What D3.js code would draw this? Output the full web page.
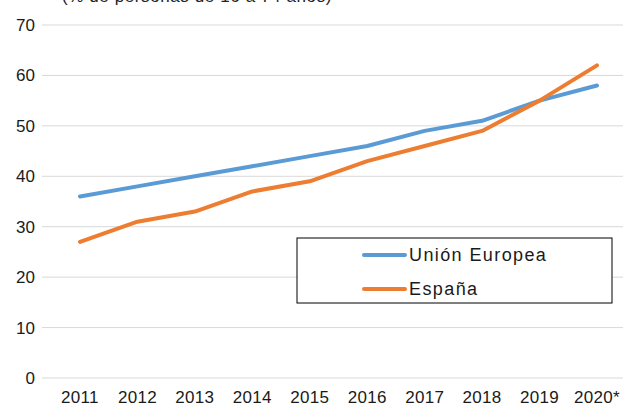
<!DOCTYPE html>
<html>
<head>
<meta charset="utf-8">
<script src="https://cdn.jsdelivr.net/npm/d3@7"></script>
<style>
  body { margin: 0; background: #fff; }
  text { font-family: "Liberation Sans", Arial, sans-serif; }
</style>
</head>
<body>
<div id="chart"></div>
<script>
var width = 623;
var height = 407;

var years = ["2011", "2012", "2013", "2014", "2015", "2016", "2017", "2018", "2019", "2020*"];
var ueValues = [36, 38, 40, 42, 44, 46, 49, 51, 55, 58];
var espValues = [27, 31, 33, 37, 39, 43, 46, 49, 55, 62];
var yTicks = [0, 10, 20, 30, 40, 50, 60, 70];
var seriesNames = ["Unión Europea", "España"];
var seriesColors = ["#5B9BD5", "#ED7D31"];

var svg = d3.select("#chart")
    .append("svg")
    .attr("width", width)
    .attr("height", height);

var x = d3.scalePoint().domain(years).range([80, 597]);
var y = d3.scaleLinear().domain([0, 70]).range([378, 25]);

// subtitle, cut off at the top like in the original
svg.append("text")
    .attr("x", 62)
    .attr("y", 2)
    .text("(% de personas de 16 a 74 años)")
    .style("font-size", "17px")
    .style("letter-spacing", "0.6px")
    .style("fill", "#222");

// gridlines
svg.append("g")
    .selectAll("line")
    .data(yTicks)
    .enter().append("line")
    .attr("x1", 42)
    .attr("x2", width)
    .attr("y1", function(d) { return y(d); })
    .attr("y2", function(d) { return y(d); })
    .style("stroke", "#D9D9D9")
    .style("stroke-width", 1);

// y labels
svg.append("g")
    .selectAll("text")
    .data(yTicks)
    .enter().append("text")
    .attr("x", 35)
    .attr("y", function(d) { return y(d) + 6; })
    .text(function(d) { return d; })
    .style("text-anchor", "end")
    .style("font-size", "17px")
    .style("fill", "#1a1a1a");

// x labels
svg.append("g")
    .selectAll("text")
    .data(years)
    .enter().append("text")
    .attr("x", function(d) { return x(d); })
    .attr("y", 403)
    .text(function(d) { return d; })
    .style("text-anchor", "middle")
    .style("font-size", "17px")
    .style("letter-spacing", "0.3px")
    .style("fill", "#1a1a1a");

var line = d3.line()
    .x(function(d, i) { return x(years[i]); })
    .y(function(d) { return y(d); });

[ueValues, espValues].forEach(function(vals, i) {
    svg.append("path")
        .datum(vals)
        .attr("d", line)
        .style("fill", "none")
        .style("stroke", seriesColors[i])
        .style("stroke-width", 4)
        .style("stroke-linejoin", "round")
        .style("stroke-linecap", "round");
});

// legend
var lg = svg.append("g").attr("transform", "translate(297,238)");
lg.append("rect")
    .attr("width", 315)
    .attr("height", 65)
    .style("fill", "#fff")
    .style("stroke", "#000")
    .style("stroke-width", 1);

seriesNames.forEach(function(name, i) {
    var ly = 17 + i * 34;
    lg.append("line")
        .attr("x1", 67)
        .attr("x2", 108)
        .attr("y1", ly)
        .attr("y2", ly)
        .style("stroke", seriesColors[i])
        .style("stroke-width", 4)
        .style("stroke-linecap", "round");
    lg.append("text")
        .attr("x", 112)
        .attr("y", ly + 6)
        .text(name)
        .style("font-size", "18px")
        .style("letter-spacing", "1.4px")
        .style("fill", "#1a1a1a");
});
</script>
</body>
</html>
